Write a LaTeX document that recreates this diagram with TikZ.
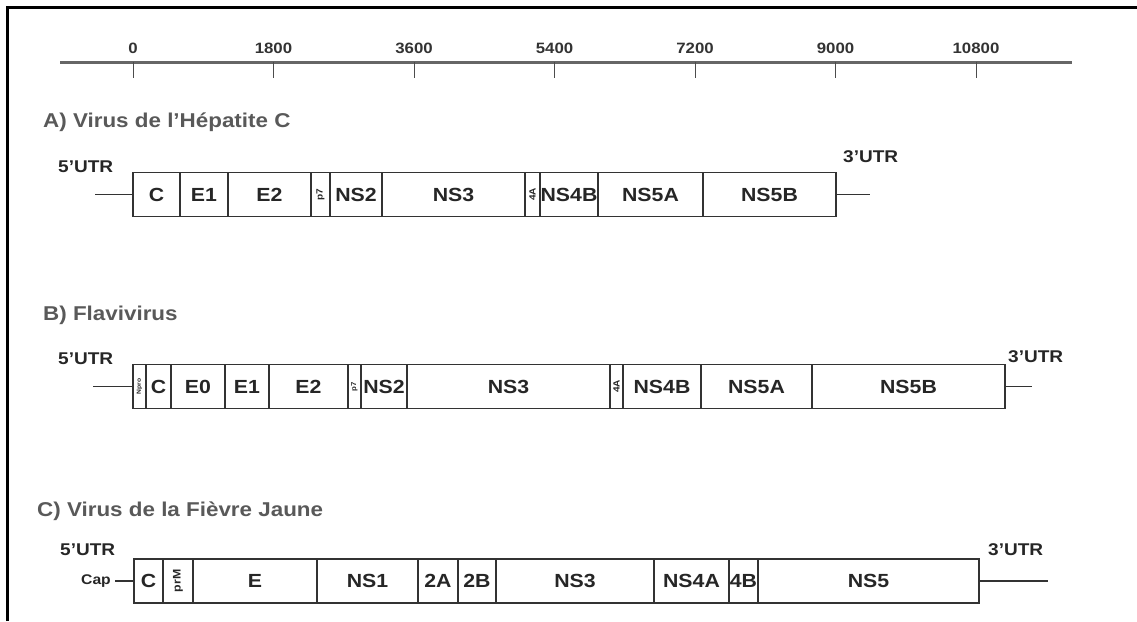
\documentclass[tikz,border=0pt]{standalone}
\usepackage{fontspec}
\setmainfont{Liberation Sans}[FakeStretch=1.12]
\usepackage{graphicx}
\newcommand{\vlab}[2]{\rotatebox{90}{\fontsize{#1}{#1}\selectfont #2}}
\begin{document}
\begin{tikzpicture}[x=1pt,y=-1pt]
    \tikzstyle{frame} = [line width=3.2pt, black]
    \tikzstyle{axis} = [line width=3pt, black!60]
    \tikzstyle{tick} = [line width=1pt, black!70]
    \tikzstyle{num} = [inner sep=0pt, text=black!80, font=\fontsize{15}{15}\selectfont\bfseries]
    \tikzstyle{title} = [anchor=west, inner sep=0pt, text=black!65, font=\fontsize{20}{20}\selectfont\bfseries]
    \tikzstyle{utrlabel} = [anchor=west, inner sep=0pt, text=black!85, font=\fontsize{17}{17}\selectfont\bfseries]
    \tikzstyle{seg} = [rectangle, draw=black!80, line width=1.4pt, inner sep=0pt, outer sep=0pt, minimum height=44pt, text=black!85, font=\fontsize{19}{19}\selectfont\bfseries]
    \tikzstyle{utr} = [line width=1.4pt, black!80]

    \useasboundingbox (0,0) rectangle (1137,621);
    \draw [frame] (7.5,621) -- (7.5,7.5) -- (1137,7.5);

    % ruler
    \coordinate (rs) at (60,62);
    \coordinate (re) at (1072,62);
    \draw [axis] (rs) -- (re);
    \foreach \v [count=\k from 0] in {0,1800,3600,5400,7200,9000,10800} {
        \coordinate (t\k) at ({133+140.5*\k},62);
        \node [num] (n\k) at ({133+140.5*\k},48) {\v};
        \draw [tick] (t\k) -- ++(0,16);
    }

    % A) HCV
    \node [title] (ta) at (43,122) {A) Virus de l’Hépatite C};
    \foreach \l/\r/\t [count=\i] in {133/180/C, 180/228/E1, 228/311/E2, 311/330/\vlab{9}{p7}, 330/382/NS2, 382/525/NS3, 525/540/\vlab{9}{4A}, 540/598/NS4B, 598/703/NS5A, 703/836/NS5B}
        \node [seg, minimum width={(\r-\l)*1pt}] (a\i) at ({(\l+\r)/2},194.5) {\t};
    \node [utrlabel] (a5l) at (58,167) {5’UTR};
    \node [utrlabel] (a3l) at (843,157) {3’UTR};
    \coordinate (a5) at (95,194.5);
    \coordinate (a3) at (870,194.5);
    \draw [utr] (a5) -- (a1.west);
    \draw [utr] (a10.east) -- (a3);

    % B) Flavivirus
    \node [title] (tb) at (43,315) {B) Flavivirus};
    \foreach \l/\r/\t [count=\i] in {133/146/\vlab{6}{Npro}, 146/171/C, 171/225/E0, 225/269/E1, 269/348/E2, 348/361/\vlab{7}{p7}, 361/407/NS2, 407/610/NS3, 610/623/\vlab{9}{4A}, 623/701/NS4B, 701/812/NS5A, 812/1005/NS5B}
        \node [seg, minimum width={(\r-\l)*1pt}] (b\i) at ({(\l+\r)/2},386.5) {\t};
    \node [utrlabel] (b5l) at (58,359) {5’UTR};
    \node [utrlabel] (b3l) at (1008,357) {3’UTR};
    \coordinate (b5) at (93,386.5);
    \coordinate (b3) at (1032,386.5);
    \draw [utr] (b5) -- (b1.west);
    \draw [utr] (b12.east) -- (b3);

    % C) Yellow fever
    \node [title] (tc) at (37,511) {C) Virus de la Fièvre Jaune};
    \foreach \l/\r/\t [count=\i] in {134/163/C, 163/193/\vlab{11}{prM}, 193/317/E, 317/418/NS1, 418/458/2A, 458/496/2B, 496/654/NS3, 654/729/NS4A, 729/758/4B, 758/979/NS5}
        \node [seg, minimum width={(\r-\l)*1pt}] (c\i) at ({(\l+\r)/2},581) {\t};
    \node [utrlabel] (c5l) at (60,550) {5’UTR};
    \node [utrlabel] (c3l) at (988,550) {3’UTR};
    \node [utrlabel, font=\fontsize{14}{14}\selectfont\bfseries] (cap) at (81,581) {Cap};
    \draw [utr] (cap.east) ++(4,0) coordinate (c5) -- (c1.west);
    \coordinate (c3) at (1048,581);
    \draw [utr] (c10.east) -- (c3);
\end{tikzpicture}
\end{document}
